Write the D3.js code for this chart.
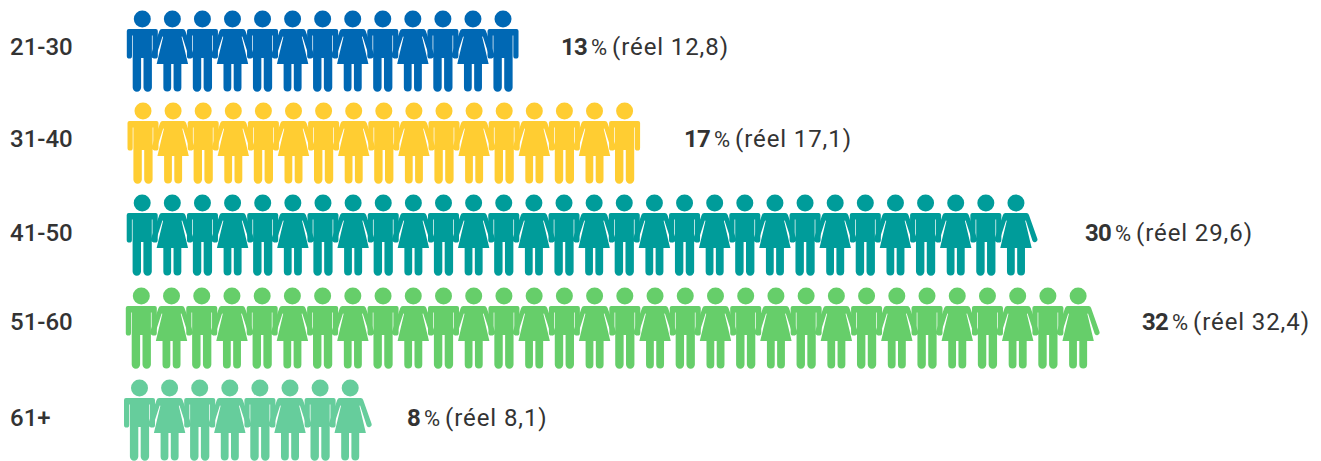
<!DOCTYPE html>
<html><head><meta charset="utf-8">
<script src="https://cdn.jsdelivr.net/npm/d3@7"></script>
<style>html,body{margin:0;background:#fff}svg{display:block}text{font-family:Roboto,sans-serif;fill:#333}</style>
</head><body><svg id="c" width="1321" height="461"></svg>
<script>
const ageGroups = ["21-30","31-40","41-50","51-60","61+"];
const roundedPct = [13,17,30,32,8];
const realPct = ["12,8","17,1","29,6","32,4","8,1"];
const colors = ["#0068b4","#ffcd32","#009c9a","#66ce6a","#66cd9c"];

// layout
const rowTop = [29,121,213,306,398];
const firstX = [142.3,143,142.2,141.3,139.5];
const stepX = [30.06,30.1,30.13,30.22,30.1];
const labelBase = [55,147,241,330,426];
const noteX = [561,684,1085,1142,407];

const man = "M-13.5 0H13.5Q15.5 0 15.5 2V27A2.6 2.6 0 0 1 10.3 27V6.5H9.6V58.5A4.2 4.2 0 0 1 1.2 58.5V29H-1.2V58.5A4.2 4.2 0 0 1-9.6 58.5V6.5H-10.3V27A2.6 2.6 0 0 1-15.5 27V2Q-15.5 0-13.5 0Z";
const woman = "M-10.5 0H10.5Q12.4 0 13 2L21.3 25.6A2.6 2.6 0 0 1 16.4 27.4L9.9 7.5L9.2 7.8L15.7 35H9V58.5A3.9 3.9 0 0 1 1.2 58.5V35H-1.2V58.5A3.9 3.9 0 0 1-9 58.5V35H-15.7L-9.2 7.8L-9.9 7.5L-16.4 27.4A2.6 2.6 0 0 1-21.3 25.6L-13 2Q-12.4 0-10.5 0Z";

const svg = d3.select("#c");
const yRow = d3.scaleOrdinal().domain(ageGroups).range(rowTop);
const x0 = d3.scaleOrdinal().domain(ageGroups).range(firstX);

const rows = svg.selectAll("g.row").data(ageGroups).join("g").attr("class","row");
rows.each(function(g,i){
  const row = d3.select(this);
  const idx = d3.scaleLinear().domain([0,1]).range([0,stepX[i]]);
  const people = row.selectAll("g.p").data(d3.range(roundedPct[i])).join("g")
    .attr("class","p")
    .attr("fill",colors[i])
    .attr("transform",k=>`translate(${x0(g)+idx(k)},${yRow(g)})`);
  people.append("circle").attr("cy",-10).attr("r",8.5);
  people.append("path").attr("d",k=>k%2?woman:man);
  row.append("text").attr("x",10).attr("y",labelBase[i])
    .attr("font-size",24).attr("font-weight",500).text(g);
  const t = row.append("text").attr("x",noteX[i]).attr("y",labelBase[i]).attr("font-size",24);
  t.append("tspan").attr("font-weight",700).attr("letter-spacing",-0.8).text(roundedPct[i]);
  t.append("tspan").attr("font-weight",400).attr("font-size",22).attr("dx",4).text("%");
  t.append("tspan").attr("font-weight",400).attr("letter-spacing",0.9).attr("dx",5).text(`(réel ${realPct[i]})`);
});
</script></body></html>
